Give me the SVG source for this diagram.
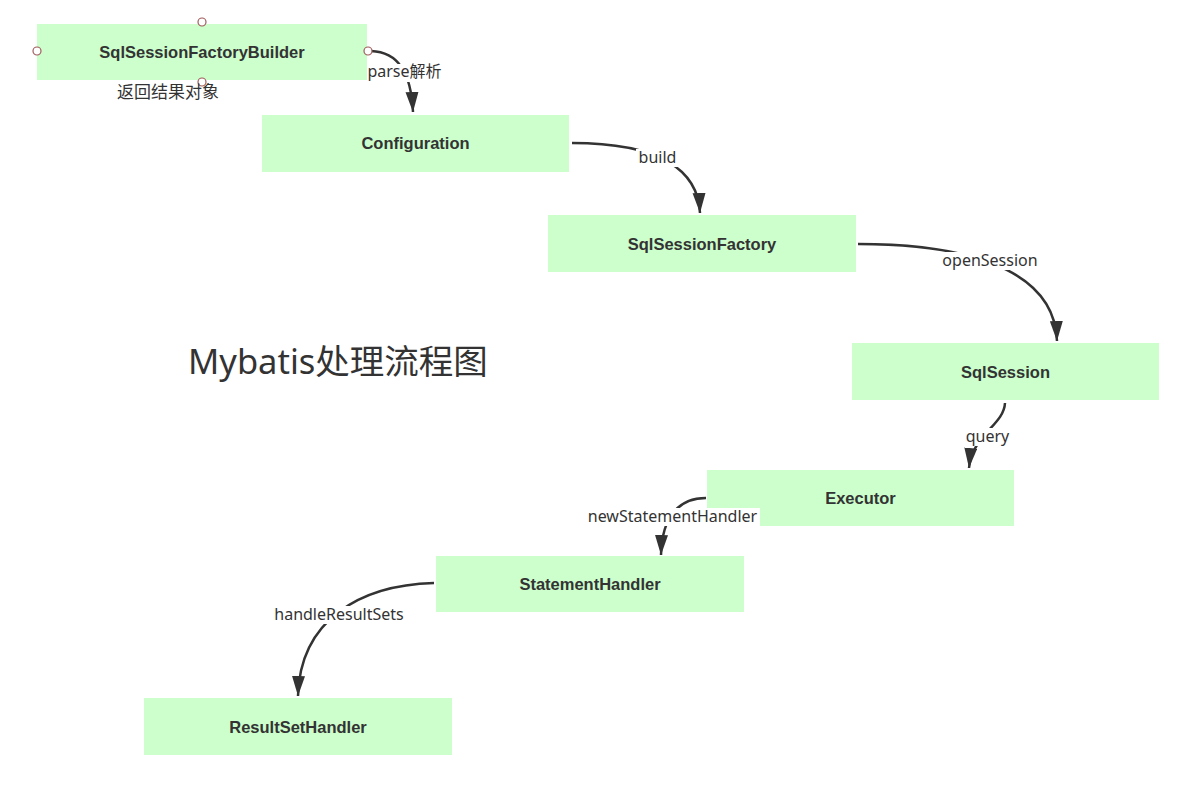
<svg xmlns="http://www.w3.org/2000/svg" width="1202" height="787" viewBox="0 0 1202 787">
  <style>
    .node rect { fill: #ccffcc; }
    .node text { font-family: "Liberation Sans", "Noto Sans CJK SC", sans-serif; font-weight: bold; font-size: 16.5px; fill: #333333; text-anchor: middle; }
    .conn path { fill: none; stroke: #333333; stroke-width: 2.5; }
    .lbl rect { fill: #ffffff; }
    .lbl text { font-family: "Noto Sans", "Noto Sans CJK SC", sans-serif; font-size: 16px; fill: #333333; text-anchor: middle; }
    .handle { fill: #ffffff; stroke: #a05a5a; stroke-width: 1.2; }
    .title { font-family: "Noto Sans", "Noto Sans CJK SC", sans-serif; font-size: 34.5px; fill: #333333; }
    .note { font-family: "Noto Sans", "Noto Sans CJK SC", sans-serif; font-size: 17px; fill: #333333; text-anchor: middle; }
  </style>
  <defs>
    <marker id="arrow" markerUnits="userSpaceOnUse" markerWidth="22" markerHeight="14" refX="20" refY="6.5" orient="auto">
      <path d="M0,0 L20,6.5 L0,13 Z" fill="#333333"/>
    </marker>
  </defs>
  <rect width="1202" height="787" fill="#ffffff"/>

  <g id="node-builder" class="node">
    <rect x="37" y="24" width="330" height="56"/>
    <text x="202" y="58">SqlSessionFactoryBuilder</text>
  </g>
  <g id="node-configuration" class="node">
    <rect x="262" y="115" width="307" height="57"/>
    <text x="415.5" y="149">Configuration</text>
  </g>
  <g id="node-factory" class="node">
    <rect x="548" y="215" width="308" height="57"/>
    <text x="702" y="250">SqlSessionFactory</text>
  </g>
  <g id="node-session" class="node">
    <rect x="852" y="343" width="307" height="57"/>
    <text x="1005.5" y="378">SqlSession</text>
  </g>
  <g id="node-executor" class="node">
    <rect x="707" y="470" width="307" height="56"/>
    <text x="860.5" y="504">Executor</text>
  </g>
  <g id="node-statement" class="node">
    <rect x="436" y="556" width="308" height="56"/>
    <text x="590" y="590">StatementHandler</text>
  </g>
  <g id="node-resultset" class="node">
    <rect x="144" y="698" width="308" height="57"/>
    <text x="298" y="733">ResultSetHandler</text>
  </g>

  <g id="connectors" class="conn">
    <path d="M 371 51 C 398 52, 411 72, 413 112" marker-end="url(#arrow)"/>
    <path d="M 572 143 C 660 143, 698 170, 700 213" marker-end="url(#arrow)"/>
    <path d="M 858 244 C 990 244, 1055 280, 1057 341" marker-end="url(#arrow)"/>
    <path d="M 1005 403 C 1004 425, 972 435, 969 468" marker-end="url(#arrow)"/>
    <path d="M 706 498 C 680 498, 662 515, 661 555" marker-end="url(#arrow)"/>
    <path d="M 434 583 C 360 585, 300 620, 298 696" marker-end="url(#arrow)"/>
  </g>

  <g id="labels" class="lbl">
    <rect x="368" y="64" width="73" height="18"/>
    <text x="404.5" y="77">parse解析</text>
    <rect x="636" y="149" width="43" height="18"/>
    <text x="657.5" y="163">build</text>
    <rect x="942" y="252" width="96" height="18"/>
    <text x="990" y="266">openSession</text>
    <rect x="965" y="428" width="45" height="18"/>
    <text x="987.5" y="442">query</text>
    <rect x="585" y="508" width="175" height="18"/>
    <text x="672.5" y="522">newStatementHandler</text>
    <rect x="272" y="606" width="134" height="18"/>
    <text x="339" y="620">handleResultSets</text>
  </g>

  <g id="handles">
    <circle class="handle" cx="202" cy="22" r="4"/>
    <circle class="handle" cx="37" cy="51" r="4"/>
    <circle class="handle" cx="368" cy="51" r="4"/>
    <circle class="handle" cx="202" cy="82" r="4"/>
  </g>

  <text class="note" x="168" y="98">返回结果对象</text>
  <text class="title" x="188" y="374">Mybatis处理流程图</text>
</svg>
